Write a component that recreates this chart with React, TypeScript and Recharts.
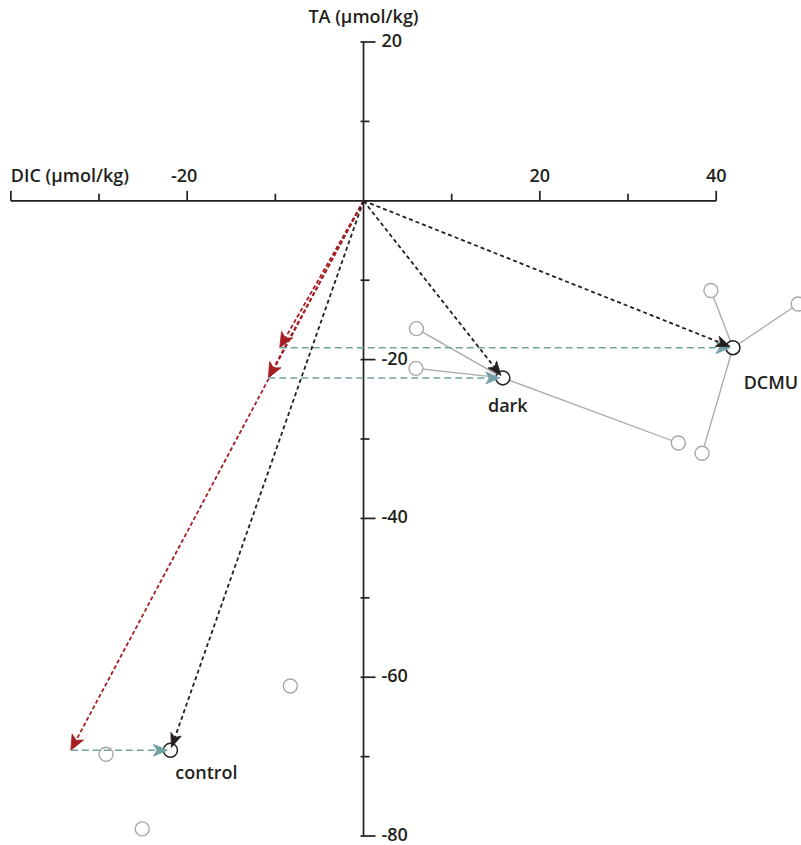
import React from 'react';
import { ScatterChart, Scatter, XAxis, YAxis } from 'recharts';

// ---------- data ----------
const groupNames = ['control', 'dark', 'DCMU'];
const meanDIC = [-21.9, 15.8, 41.9];
const meanTA = [-69.2, -22.3, -18.5];
// end of the calcification (2:1) vector for each treatment (same TA as the mean)
const calcDIC = [-33.2, -10.8, -9.5];

const controlRepDIC = [-29.2, -8.3, -25.1];
const controlRepTA = [-69.7, -61.1, -79.1];
const darkRepDIC = [6.0, 5.95, 35.7];
const darkRepTA = [-16.1, -21.1, -30.5];
const dcmuRepDIC = [39.4, 49.3, 38.4];
const dcmuRepTA = [-11.3, -13.0, -31.8];

const xTicks = [-40, -30, -20, -10, 10, 20, 30, 40];
const xTickLabels = [-20, 20, 40];
const yTicks = [20, 10, -10, -20, -30, -40, -50, -60, -70, -80];
const yTickLabels = [20, -20, -40, -60, -80];
const xAxisRange = [-40, 40];
const yAxisRange = [20, -80];
const xTitle = 'DIC (\u00b5mol/kg)';
const yTitle = 'TA (\u00b5mol/kg)';

// ---------- style ----------
const W = 801;
const H = 845;
const X_DOMAIN = [-41.23, 49.62];
const Y_DOMAIN = [-81.13, 25.29];
const INK = '#231f20';
const RED = '#a51e22';
const TEAL = '#72a1a6';
const GREY = '#a8a8a8';
const FONT = '"Open Sans", sans-serif';
const FS = 18;
const FW = 600;
const labelOffset: Record<string, [number, number]> = {
  control: [36, 22],
  dark: [5, 27],
  DCMU: [38, 34],
};

const none = () => <g />;

const plainLine = (color: string, width: number, dash?: string) => (p: any) => {
  const pts = p.points || [];
  if (pts.length < 2) return <g />;
  const d = pts.map((q: any, i: number) => `${i ? 'L' : 'M'}${q.x},${q.y}`).join(' ');
  return <path d={d} fill="none" stroke={color} strokeWidth={width} strokeDasharray={dash} />;
};

const arrowLine = (color: string, dash: string, width: number, inset: number, headLen: number, headW: number) => (p: any) => {
  const pts = p.points || [];
  if (pts.length < 2) return <g />;
  const a = pts[0];
  const b = pts[pts.length - 1];
  const dx = b.x - a.x;
  const dy = b.y - a.y;
  const L = Math.hypot(dx, dy) || 1;
  const ux = dx / L;
  const uy = dy / L;
  const nx = -uy;
  const ny = ux;
  const tip = { x: b.x - ux * inset, y: b.y - uy * inset };
  const base = { x: tip.x - ux * headLen, y: tip.y - uy * headLen };
  const notch = { x: tip.x - ux * headLen * 0.75, y: tip.y - uy * headLen * 0.75 };
  const head = `M${tip.x},${tip.y} L${base.x + nx * headW},${base.y + ny * headW} L${notch.x},${notch.y} L${base.x - nx * headW},${base.y - ny * headW} Z`;
  return (
    <g>
      <path d={`M${a.x},${a.y} L${notch.x},${notch.y}`} fill="none" stroke={color} strokeWidth={width} strokeDasharray={dash} />
      <path d={head} fill={color} stroke={color} strokeWidth={0.8} strokeLinejoin="miter" />
    </g>
  );
};

const circleShape = (stroke: string, sw: number) => (p: any) => (
  <circle cx={p.cx} cy={p.cy} r={7} fill="#fff" stroke={stroke} strokeWidth={sw} />
);

const xTickShape = (p: any) => {
  const major = p.payload.x % 20 === 0;
  return <line x1={p.cx} y1={p.cy} x2={p.cx} y2={p.cy - (major ? 10 : 7)} stroke={INK} strokeWidth={1.7} />;
};
const yTickShape = (p: any) => {
  const major = p.payload.y % 20 === 0;
  return <line x1={p.cx - 3} y1={p.cy} x2={p.cx + (major ? 12 : 6)} y2={p.cy} stroke={INK} strokeWidth={1.7} />;
};
const txt = { fontFamily: FONT, fontSize: FS, fontWeight: FW, fill: INK };
const xTickLabelShape = (p: any) => (
  <text x={p.cx + (p.payload.x < 0 ? -3 : 0)} y={p.cy - 26} textAnchor="middle" dominantBaseline="central" {...txt}>
    {p.payload.x}
  </text>
);
const yTickLabelShape = (p: any) => (
  <text x={p.cx + 18} y={p.cy - 2} textAnchor="start" dominantBaseline="central" {...txt}>
    {p.payload.y}
  </text>
);
const groupLabelShape = (p: any) => {
  const off = labelOffset[p.payload.name] || [0, 0];
  return (
    <text x={p.cx + off[0]} y={p.cy + off[1]} textAnchor="middle" dominantBaseline="central" {...txt}>
      {p.payload.name}
    </text>
  );
};
const xTitleShape = (p: any) => (
  <text x={p.cx} y={p.cy - 26} textAnchor="start" dominantBaseline="central" {...txt}>
    {xTitle}
  </text>
);
const yTitleShape = (p: any) => (
  <text x={p.cx} y={p.cy - 26} textAnchor="middle" dominantBaseline="central" {...txt}>
    {yTitle}
  </text>
);

const means = groupNames.map((name, i) => ({ name, x: meanDIC[i], y: meanTA[i] }));
const reps: Record<string, { x: number; y: number }[]> = {
  control: controlRepDIC.map((x, i) => ({ x, y: controlRepTA[i] })),
  dark: darkRepDIC.map((x, i) => ({ x, y: darkRepTA[i] })),
  DCMU: dcmuRepDIC.map((x, i) => ({ x, y: dcmuRepTA[i] })),
};
const spokeGroups = ['dark', 'DCMU'];
const origin = { x: 0, y: 0 };

export default function App() {
  return (
    <div style={{ position: 'absolute', left: 0, top: 0, width: W, height: H, background: '#fff' }}>
      <ScatterChart width={W} height={H} margin={{ top: 0, right: 0, bottom: 0, left: 0 }}>
        <XAxis type="number" dataKey="x" domain={X_DOMAIN} allowDataOverflow hide />
        <YAxis type="number" dataKey="y" domain={Y_DOMAIN} allowDataOverflow hide />

        {/* axes */}
        <Scatter data={xAxisRange.map((x) => ({ x, y: 0 }))} line={plainLine(INK, 1.7)} lineType="joint" shape={none} isAnimationActive={false} />
        <Scatter data={yAxisRange.map((y) => ({ x: 0, y }))} line={plainLine(INK, 1.7)} lineType="joint" shape={none} isAnimationActive={false} />
        <Scatter data={xTicks.map((x) => ({ x, y: 0 }))} shape={xTickShape} isAnimationActive={false} />
        <Scatter data={yTicks.map((y) => ({ x: 0, y }))} shape={yTickShape} isAnimationActive={false} />
        <Scatter data={xTickLabels.map((x) => ({ x, y: 0 }))} shape={xTickLabelShape} isAnimationActive={false} />
        <Scatter data={yTickLabels.map((y) => ({ x: 0, y }))} shape={yTickLabelShape} isAnimationActive={false} />
        <Scatter data={[{ x: xAxisRange[0], y: 0 }]} shape={xTitleShape} isAnimationActive={false} />
        <Scatter data={[{ x: 0, y: yAxisRange[0] }]} shape={yTitleShape} isAnimationActive={false} />

        {/* spokes from mean to replicates */}
        {spokeGroups.flatMap((g) =>
          reps[g].map((r, j) => (
            <Scatter
              key={`spoke-${g}-${j}`}
              data={[means[groupNames.indexOf(g)], r]}
              line={plainLine(GREY, 1.3)}
              lineType="joint"
              shape={none}
              isAnimationActive={false}
            />
          ))
        )}

        {/* replicate circles */}
        {groupNames.map((g) => (
          <Scatter key={`rep-${g}`} data={reps[g]} shape={circleShape(GREY, 1.4)} isAnimationActive={false} />
        ))}

        {/* mean circles */}
        <Scatter data={means} shape={circleShape(INK, 1.5)} isAnimationActive={false} />

        {/* calcification vectors (red) */}
        {groupNames.map((g, i) => (
          <Scatter
            key={`red-${g}`}
            data={[origin, { x: calcDIC[i], y: meanTA[i] }]}
            line={arrowLine(RED, '4 2.5', 1.8, 0, 15, 6.5)}
            lineType="joint"
            shape={none}
            isAnimationActive={false}
          />
        ))}

        {/* photosynthesis vectors (teal) */}
        {groupNames.map((g, i) => (
          <Scatter
            key={`teal-${g}`}
            data={[{ x: calcDIC[i], y: meanTA[i] }, means[i]]}
            line={arrowLine(TEAL, '7 4', 1.5, 3, 14, 6)}
            lineType="joint"
            shape={none}
            isAnimationActive={false}
          />
        ))}

        {/* net vectors (black) */}
        {groupNames.map((g, i) => (
          <Scatter
            key={`net-${g}`}
            data={[origin, means[i]]}
            line={arrowLine(INK, '4 3', 1.8, 3, 14, 5.5)}
            lineType="joint"
            shape={none}
            isAnimationActive={false}
          />
        ))}

        {/* group labels */}
        <Scatter data={means} shape={groupLabelShape} isAnimationActive={false} />
      </ScatterChart>
    </div>
  );
}
